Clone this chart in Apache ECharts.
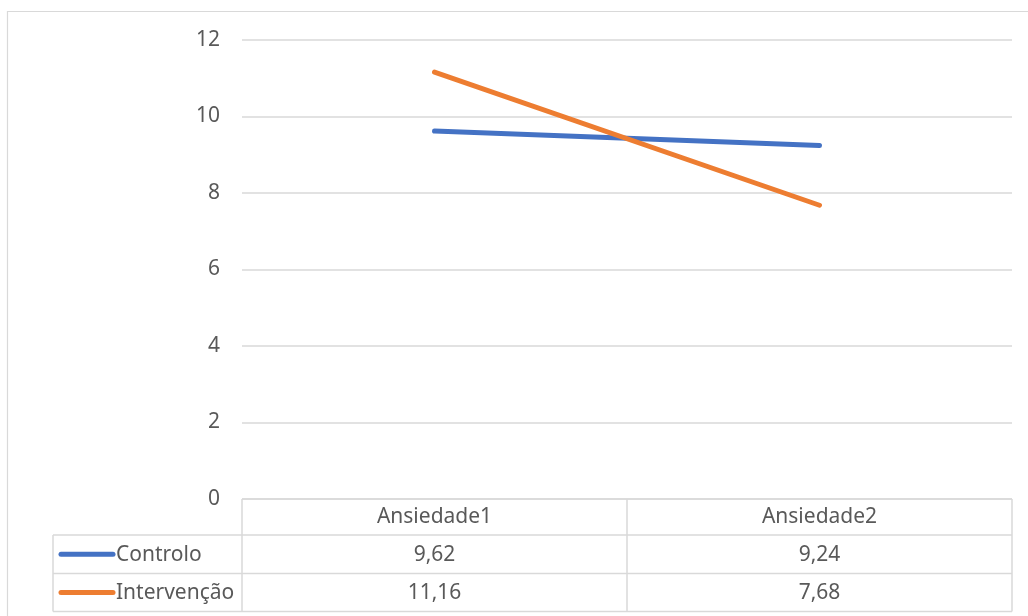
<!DOCTYPE html>
<html>
<head>
<meta charset="utf-8">
<script src="https://cdn.jsdelivr.net/npm/echarts@6/dist/echarts.min.js"></script>
<style>
  html, body { margin: 0; padding: 0; background: #fff; }
  #chart { width: 1028px; height: 616px; }
</style>
</head>
<body>
<div id="chart"></div>
<script>
// Ansiedade scores per group, before and after
const categories = ['Ansiedade1', 'Ansiedade2'];
const seriesNames = ['Controlo', 'Intervenção'];
const controlo = [9.62, 9.24];
const intervencao = [11.16, 7.68];
const yTicks = [0, 2, 4, 6, 8, 10, 12];

const colors = ['#4472C4', '#ED7D31'];
const textColor = '#595959';
const lineColor = '#D9D9D9';
const fontFamily = '"Noto Sans", "Open Sans", sans-serif';
const fontSize = 21;

const fmt = v => v.toFixed(2).replace('.', ',');

const chart = echarts.init(document.getElementById('chart'), null, { renderer: 'canvas' });

const gridLeft = 242, gridRight = 16, gridTop = 40, gridBottom = 117;

chart.setOption({
  animation: false,
  backgroundColor: '#fff',
  grid: { left: gridLeft, right: gridRight, top: gridTop, bottom: gridBottom },
  xAxis: {
    type: 'category',
    data: categories,
    boundaryGap: true,
    axisLine: { show: false },
    axisTick: { show: false },
    axisLabel: { show: false }
  },
  yAxis: {
    type: 'value',
    min: yTicks[0],
    max: yTicks[yTicks.length - 1],
    interval: 2,
    axisLine: { show: false },
    axisTick: { show: false },
    axisLabel: { color: textColor, fontSize: fontSize, fontFamily: fontFamily, margin: 22 },
    splitLine: { lineStyle: { color: lineColor, width: 1.5 } }
  },
  series: [
    {
      name: seriesNames[0], type: 'line', data: controlo,
      symbol: 'none', lineStyle: { color: colors[0], width: 5, cap: 'round' }
    },
    {
      name: seriesNames[1], type: 'line', data: intervencao,
      symbol: 'none', lineStyle: { color: colors[1], width: 5, cap: 'round' }
    }
  ]
});

// Data table under the plot, laid out from the category axis
function buildTable() {
  const centers = categories.map(c => chart.convertToPixel({ xAxisIndex: 0 }, c));
  const band = centers.length > 1 ? centers[1] - centers[0] : 386;
  const xLeft = centers[0] - band / 2;
  const xRight = centers[centers.length - 1] + band / 2;
  const yTop = chart.convertToPixel({ yAxisIndex: 0 }, 0);
  const rowH = [36, 38.5, 38];
  const rowY = [yTop, yTop + rowH[0], yTop + rowH[0] + rowH[1], yTop + rowH[0] + rowH[1] + rowH[2]];
  const legendLeft = 53;
  const els = [];
  const line = (x1, y1, x2, y2) => ({
    type: 'line', shape: { x1, y1, x2, y2 },
    style: { stroke: lineColor, lineWidth: 1.5 }, silent: true
  });
  // outer chart frame
  els.push({ type: 'rect', shape: { x: 7.5, y: 11.5, width: 1040, height: 640 },
    style: { fill: null, stroke: lineColor, lineWidth: 1.2 }, silent: true });
  // horizontal rules
  els.push(line(xLeft, rowY[0], xRight, rowY[0]));
  els.push(line(legendLeft, rowY[1], xRight, rowY[1]));
  els.push(line(legendLeft, rowY[2], xRight, rowY[2]));
  els.push(line(legendLeft, rowY[3], xRight, rowY[3]));
  // vertical rules
  els.push(line(legendLeft, rowY[1], legendLeft, rowY[3]));
  for (let i = 0; i <= categories.length; i++) {
    const x = xLeft + band * i;
    els.push(line(x, rowY[0], x, rowY[3]));
  }
  const text = (x, y, s, align) => ({
    type: 'text', x, y,
    style: { text: s, fill: textColor, font: fontSize + 'px ' + fontFamily, align: align, verticalAlign: 'middle' },
    silent: true
  });
  // header
  categories.forEach((c, i) => els.push(text(centers[i], (rowY[0] + rowY[1]) / 2, c, 'center')));
  // rows
  const rows = [controlo, intervencao];
  rows.forEach((vals, r) => {
    const cy = (rowY[r + 1] + rowY[r + 2]) / 2 + 1;
    els.push({ type: 'line', shape: { x1: 61, y1: cy - 1, x2: 113, y2: cy - 1 },
      style: { stroke: colors[r], lineWidth: 5, lineCap: 'round' }, silent: true });
    els.push(text(116, cy, seriesNames[r], 'left'));
    vals.forEach((v, i) => els.push(text(centers[i], cy, fmt(v), 'center')));
  });
  chart.setOption({ graphic: { elements: els } });
}
buildTable();
</script>
</body>
</html>
